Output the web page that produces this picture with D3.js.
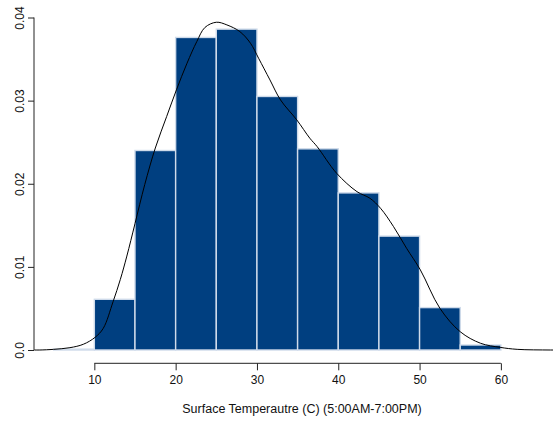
<!DOCTYPE html>
<html>
<head>
<meta charset="utf-8">
<script src="https://cdn.jsdelivr.net/npm/d3@7"></script>
<style>
  html, body { margin: 0; padding: 0; background: #fff; }
  svg { display: block; font-family: "Liberation Sans", Arial, sans-serif; }
</style>
</head>
<body>
<svg id="chart" width="553" height="422"></svg>
<script>
// Histogram bins (left edges, width 5) and their densities
const binStarts = [5, 10, 15, 20, 25, 30, 35, 40, 45, 50, 55];
const binWidth = 5;
const densities = [0.0001, 0.0061, 0.0240, 0.0376, 0.0386, 0.0305, 0.0242, 0.0189, 0.0137, 0.0051, 0.0006];

// Kernel density estimate, sampled along temperature
const kdeX = [2.6, 3.3, 5.0, 7.0, 8.65, 10.1, 11.1, 12.3, 13.2, 14.0, 15.0, 16.2, 17.5, 18.9, 20.1, 21.4, 22.6, 23.6, 25.0, 26.3, 27.9, 29.2, 30.2, 31.6, 32.9, 34.9, 36.5, 37.4, 39.8, 42.3, 43.9, 45.2, 46.8, 48.4, 50.1, 52.5, 55.0, 57.5, 59.9, 62.0, 66.1, 68.5];
const kdeY = [0, 0, 0.00008, 0.00028, 0.00069, 0.00153, 0.00261, 0.0058, 0.0085, 0.0113, 0.0152, 0.0199, 0.0243, 0.0281, 0.0313, 0.0345, 0.0371, 0.0388, 0.03943, 0.03911, 0.0383, 0.03691, 0.0351, 0.03249, 0.03008, 0.02768, 0.02548, 0.02447, 0.02126, 0.01905, 0.01825, 0.01705, 0.01484, 0.01224, 0.00963, 0.00502, 0.0022, 0.00081, 0.00032, 0.00008, 0, 0];

const xTicks = [10, 20, 30, 40, 50, 60];
const yTicks = [0, 0.01, 0.02, 0.03, 0.04];
const yTickLabels = ["0.0", "0.01", "0.02", "0.03", "0.04"];
const xTitle = "Surface Temperautre (C) (5:00AM-7:00PM)";

const svg = d3.select("#chart");
const plot = { left: 34, right: 570, top: 4.2, bottom: 363.3 };
const font = "'Liberation Sans', Arial, sans-serif";

const x = d3.scaleLinear().domain([2.58, 68.5]).range([plot.left, plot.right]);
const y = d3.scaleLinear().domain([-0.0016, 0.0416]).range([plot.bottom, plot.top]);

svg.append("defs").append("clipPath").attr("id", "plotClip")
  .append("rect")
  .attr("x", plot.left).attr("y", plot.top)
  .attr("width", plot.right - plot.left).attr("height", plot.bottom - plot.top);

const g = svg.append("g").attr("clip-path", "url(#plotClip)");

// Bars
g.selectAll("rect.bar")
  .data(binStarts.map((s, i) => ({ s, d: densities[i] })))
  .join("rect")
  .attr("class", "bar")
  .attr("x", d => x(d.s))
  .attr("width", d => x(d.s + binWidth) - x(d.s))
  .attr("y", d => y(d.d))
  .attr("height", d => y(0) - y(d.d))
  .attr("fill", "#003f80")
  .attr("stroke", "#cfdbea")
  .attr("stroke-width", 1.4);

// Density curve
const line = d3.line()
  .x((d, i) => x(kdeX[i]))
  .y(d => y(d))
  .curve(d3.curveCatmullRom.alpha(0.5));

g.append("path")
  .datum(kdeY)
  .attr("d", line)
  .attr("fill", "none")
  .attr("stroke", "#000")
  .attr("stroke-width", 1);

// X axis: the axis line spans only the first to last tick
const xAxis = svg.append("g").attr("transform", `translate(0,${plot.bottom})`)
  .call(d3.axisBottom(x).tickValues(xTicks).tickSize(7).tickSizeOuter(0).tickPadding(5));
xAxis.select(".domain").remove();
xAxis.append("line")
  .attr("x1", x(xTicks[0])).attr("x2", x(xTicks[xTicks.length - 1]))
  .attr("stroke", "#222");
xAxis.selectAll(".tick line").attr("stroke", "#222");
xAxis.selectAll(".tick text").attr("font-size", "12px").attr("fill", "#111")
  .attr("font-family", font);

// Y axis
const yAxis = svg.append("g").attr("transform", `translate(${plot.left},0)`)
  .call(d3.axisLeft(y).tickValues(yTicks).tickSize(6).tickSizeOuter(0)
    .tickFormat((d, i) => yTickLabels[i]));
yAxis.select(".domain").remove();
yAxis.append("line")
  .attr("y1", y(yTicks[0])).attr("y2", y(yTicks[yTicks.length - 1]))
  .attr("stroke", "#222");
yAxis.selectAll(".tick line").attr("stroke", "#222");
yAxis.selectAll(".tick text")
  .attr("font-size", "12px").attr("fill", "#111")
  .attr("font-family", font)
  .attr("text-anchor", "middle")
  .attr("x", null).attr("dy", null)
  .attr("transform", "translate(-10,0) rotate(-90)");

// Axis title
svg.append("text")
  .attr("x", (plot.left + plot.right) / 2)
  .attr("y", 413)
  .attr("text-anchor", "middle")
  .attr("font-size", "12.5px")
  .attr("font-family", font)
  .attr("fill", "#111")
  .text(xTitle);
</script>
</body>
</html>
